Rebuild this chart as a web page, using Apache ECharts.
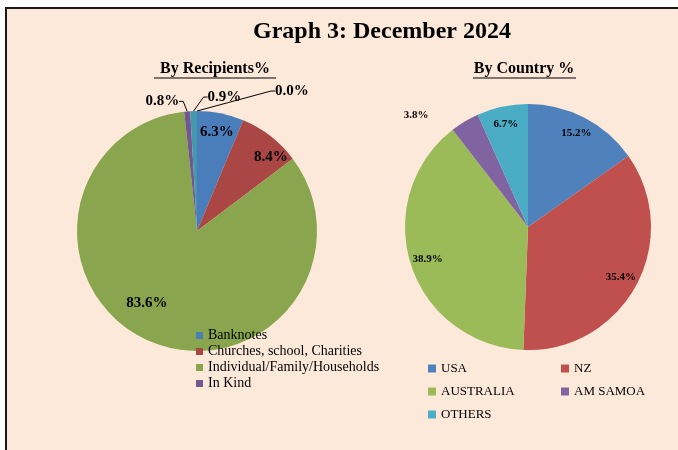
<!DOCTYPE html>
<html>
<head>
<meta charset="utf-8">
<script src="https://cdn.jsdelivr.net/npm/echarts@6/dist/echarts.min.js"></script>
<style>
  html, body { margin: 0; padding: 0; background: #fff; }
  #main { width: 678px; height: 450px; }
</style>
</head>
<body>
<div id="main"></div>
<script>
// 受款人分类
var recipNames = ['Banknotes', 'Churches, school, Charities', 'Individual/Family/Households', 'In Kind', 'Others', 'Unspecified'];
var recipValues = [6.3, 8.4, 83.6, 0.8, 0.9, 0.0];
// 国家分类
var countryNames = ['USA', 'NZ', 'AUSTRALIA', 'AM SAMOA', 'OTHERS'];
var countryValues = [15.2, 35.4, 38.9, 3.8, 6.7];

var recipColors = ['#4A7EBB', '#AA4643', '#89A54E', '#71588F', '#4198AF', '#DB843D'];
var countryColors = ['#4F81BD', '#C0504D', '#9BBB59', '#8064A2', '#4BACC6'];

var FONT = 'Liberation Serif';

function pct(p) {
  return Number(p.value).toFixed(1) + '%';
}

// 组装饼图数据, labelIdx: 显示标签的序号
function buildData(names, values, colors, labelIdx) {
  return names.map(function (n, i) {
    var item = { name: n, value: values[i] };
    if (colors) item.itemStyle = { color: colors[i] };
    item.label = { show: labelIdx.indexOf(i) !== -1 };
    return item;
  });
}

// 标签微调 (相对于默认位置)
function nudge(p, dx, dy) {
  var r = p.labelRect;
  return {
    x: r.x + r.width / 2 + dx, y: r.y + r.height / 2 + dy,
    align: 'center', verticalAlign: 'middle'
  };
}

var chart = echarts.init(document.getElementById('main'));

var leftCenter = [197, 231], leftR = 120;
var rightCenter = [528, 227], rightR = 123;

var labelFont = { fontFamily: FONT, fontWeight: 'bold', color: '#000' };

var option = {
  backgroundColor: '#fff',
  animation: false,
  textStyle: { fontFamily: FONT },
  graphic: [
    {
      type: 'rect', z: -10,
      shape: { x: 6, y: 8, width: 700, height: 460 },
      style: { fill: '#FDE9D9', stroke: '#1a1a1a', lineWidth: 2 }
    },
    { type: 'line', z: 10, shape: { x1: 154, y1: 78, x2: 276, y2: 78 }, style: { stroke: '#000', lineWidth: 1.2 } },
    { type: 'line', z: 10, shape: { x1: 473, y1: 78, x2: 576, y2: 78 }, style: { stroke: '#000', lineWidth: 1.2 } }
  ],
  title: [
    {
      text: 'Graph 3: December 2024', left: 382, top: 20, textAlign: 'center', padding: 0,
      textStyle: { fontFamily: FONT, fontSize: 24, fontWeight: 'bold', color: '#000' }
    },
    {
      text: 'By Recipients%', left: 215, top: 61, textAlign: 'center', padding: 0,
      textStyle: { fontFamily: FONT, fontSize: 16, fontWeight: 'bold', color: '#000' }
    },
    {
      text: 'By Country %', left: 524, top: 61, textAlign: 'center', padding: 0,
      textStyle: { fontFamily: FONT, fontSize: 16, fontWeight: 'bold', color: '#000' }
    }
  ],
  legend: [
    {
      data: recipNames.slice(0, 4),
      orient: 'vertical', left: 196, top: 328, padding: 0,
      icon: 'rect', itemWidth: 7, itemHeight: 7, itemGap: 1,
      textStyle: { fontFamily: FONT, fontSize: 14, lineHeight: 15, color: '#000' }
    },
    {
      data: countryNames,
      orient: 'horizontal', left: 428, top: 362, width: 260, padding: 0,
      icon: 'rect', itemWidth: 8, itemHeight: 8, itemGap: 10,
      textStyle: { fontFamily: FONT, fontSize: 13, lineHeight: 12, width: 110, color: '#000' }
    }
  ],
  series: [
    // 左饼图 (外侧小标签)
    {
      type: 'pie', center: leftCenter, radius: leftR, startAngle: 90, clockwise: true,
      avoidLabelOverlap: false, emphasis: { disabled: true },
      itemStyle: { borderWidth: 0 },
      label: Object.assign({ position: 'outside', fontSize: 15, formatter: pct, distanceToLabelLine: 2 }, labelFont),
      labelLine: { show: true, length: 8, length2: 4, lineStyle: { color: '#000', width: 1 } },
      labelLayout: function (p) {
        var pts = p.labelLinePoints;
        if (!pts) return {};
        var a = pts[0];
        if (p.dataIndex === 3) return { x: a[0] - 8, y: a[1] - 10, align: 'right', verticalAlign: 'middle' };
        if (p.dataIndex === 4) return { x: a[0] + 14, y: a[1] - 14, align: 'left', verticalAlign: 'middle' };
        if (p.dataIndex === 5) return { x: a[0] + 78, y: a[1] - 20, align: 'left', verticalAlign: 'middle' };
        return {};
      },
      data: buildData(recipNames, recipValues, recipColors, [3, 4, 5])
    },
    // 左饼图 内部标签
    {
      type: 'pie', center: leftCenter, radius: [76, leftR], startAngle: 90, clockwise: true,
      silent: true, emphasis: { disabled: true }, avoidLabelOverlap: false,
      itemStyle: { color: 'transparent', borderWidth: 0 },
      label: Object.assign({ position: 'inside', fontSize: 15, formatter: pct }, labelFont),
      labelLine: { show: false },
      labelLayout: function (p) {
        if (!p.labelRect) return {};
        if (p.dataIndex === 1) return nudge(p, 12, 6);
        if (p.dataIndex === 2) return nudge(p, -10, -21);
        return {};
      },
      data: buildData(recipNames, recipValues, null, [0, 1, 2])
    },
    // 右饼图
    {
      type: 'pie', center: rightCenter, radius: rightR, startAngle: 90, clockwise: true,
      avoidLabelOverlap: false, emphasis: { disabled: true },
      itemStyle: { borderWidth: 0 },
      label: Object.assign({ position: 'outside', fontSize: 11, formatter: pct, distanceToLabelLine: 5 }, labelFont),
      labelLine: { show: false, length: 8, length2: 27 },
      data: buildData(countryNames, countryValues, countryColors, [3])
    },
    // 右饼图 内部标签
    {
      type: 'pie', center: rightCenter, radius: [82, rightR], startAngle: 90, clockwise: true,
      silent: true, emphasis: { disabled: true }, avoidLabelOverlap: false,
      itemStyle: { color: 'transparent', borderWidth: 0 },
      label: Object.assign({ position: 'inside', fontSize: 11, formatter: pct }, labelFont),
      labelLine: { show: false },
      data: buildData(countryNames, countryValues, null, [0, 1, 2, 4])
    }
  ]
};

chart.setOption(option);
</script>
</body>
</html>
